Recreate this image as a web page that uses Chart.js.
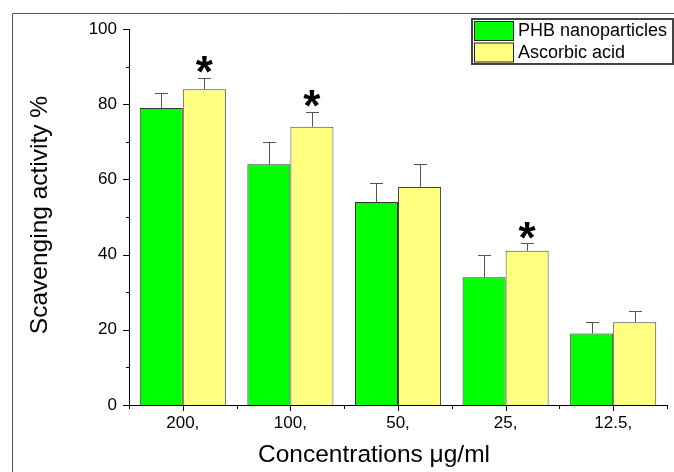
<!DOCTYPE html>
<html>
<head>
<meta charset="utf-8">
<script src="https://cdn.jsdelivr.net/npm/chart.js@4/dist/chart.umd.min.js"></script>
<style>
  html, body { margin: 0; padding: 0; background: #fff; }
  #chart { display: block; }
</style>
</head>
<body>
<canvas id="chart" width="674" height="472"></canvas>
<script>
// values
const categories = ['200,', '100,', '50,', '25,', '12.5,'];
const phbValues = [79, 64, 54, 34, 19];
const phbErrors = [4, 6, 5, 6, 3];
const ascorbicValues = [84, 74, 58, 41, 22];
const ascorbicErrors = [3, 4, 6, 2, 3];
const ascorbicStars = [true, true, false, true, false];
const yTicks = [0, 20, 40, 60, 80, 100];

const FONT = 'Arial, "Liberation Sans", sans-serif';

// error bars (upper only) and significance stars
const errorBarPlugin = {
    id: 'errorBars',
    afterDatasetsDraw(chart) {
        const ctx = chart.ctx;
        const yScale = chart.scales.y;
        chart.data.datasets.forEach((ds, i) => {
            const meta = chart.getDatasetMeta(i);
            meta.data.forEach((bar, j) => {
                const top = yScale.getPixelForValue(ds.data[j] + ds.errors[j]);
                const x = Math.round(bar.x) + 0.5;
                ctx.save();
                ctx.strokeStyle = '#555';
                ctx.lineWidth = 1;
                ctx.beginPath();
                ctx.moveTo(x, bar.y);
                ctx.lineTo(x, Math.round(top) + 0.5);
                ctx.moveTo(x - 6.5, Math.round(top) + 0.5);
                ctx.lineTo(x + 6.5, Math.round(top) + 0.5);
                ctx.stroke();
                if (ds.stars && ds.stars[j]) {
                    ctx.fillStyle = '#000';
                    ctx.font = 'bold 44px ' + FONT;
                    ctx.textAlign = 'center';
                    ctx.textBaseline = 'alphabetic';
                    ctx.fillText('*', bar.x, top - 15 + 0.55 * 44);
                }
                ctx.restore();
            });
        });
    }
};

// major / minor tick marks, titles, legend box and frame
const decorPlugin = {
    id: 'decor',
    afterDraw(chart) {
        const ctx = chart.ctx;
        const x = chart.scales.x;
        const y = chart.scales.y;
        const area = chart.chartArea;
        ctx.save();
        ctx.strokeStyle = '#000';
        ctx.lineWidth = 1;
        ctx.beginPath();
        // y ticks
        for (let v = 0; v <= 100; v += 10) {
            const py = Math.round(y.getPixelForValue(v)) + 0.5;
            const len = v % 20 === 0 ? 6 : 3;
            ctx.moveTo(area.left, py);
            ctx.lineTo(area.left - len, py);
        }
        // x ticks: centers (major) and boundaries (minor)
        const n = categories.length;
        for (let i = 0; i < n; i++) {
            const px = Math.round(x.getPixelForValue(i)) + 0.5;
            ctx.moveTo(px, area.bottom);
            ctx.lineTo(px, area.bottom + 6);
        }
        for (let i = 0; i <= n; i++) {
            const px = Math.round(x.getPixelForValue(i - 0.5)) + 0.5;
            ctx.moveTo(px, area.bottom);
            ctx.lineTo(px, area.bottom + 4);
        }
        ctx.stroke();

        // axis titles
        ctx.fillStyle = '#000';
        ctx.font = '24.5px ' + FONT;
        ctx.textAlign = 'center';
        ctx.textBaseline = 'middle';
        ctx.fillText('Concentrations \u03bcg/ml', 374, 455);
        ctx.save();
        ctx.translate(40, 215);
        ctx.rotate(-Math.PI / 2);
        ctx.fillText('Scavenging activity %', 0, 0);
        ctx.restore();

        // legend
        ctx.strokeStyle = '#444';
        ctx.lineWidth = 2;
        ctx.strokeRect(472, 19, 201, 45);
        chart.data.datasets.forEach((ds, i) => {
            const sy = 21 + i * 21.5;
            ctx.fillStyle = ds.backgroundColor;
            ctx.fillRect(474, sy, 40, 20);
            ctx.strokeStyle = '#222';
            ctx.lineWidth = 1;
            ctx.strokeRect(474.5, sy + 0.5, 39, 19);
            ctx.fillStyle = '#000';
            ctx.font = '18px ' + FONT;
            ctx.textAlign = 'left';
            ctx.textBaseline = 'middle';
            ctx.fillText(ds.label, 518, sy + 10.5);
        });

        // outer frame
        ctx.strokeStyle = '#555';
        ctx.lineWidth = 1;
        ctx.beginPath();
        ctx.moveTo(12.5, chart.height);
        ctx.lineTo(12.5, 13.5);
        ctx.lineTo(chart.width, 13.5);
        ctx.stroke();
        ctx.restore();
    }
};

new Chart(document.getElementById('chart'), {
    type: 'bar',
    data: {
        labels: categories,
        datasets: [
            {
                label: 'PHB nanoparticles',
                data: phbValues,
                errors: phbErrors,
                backgroundColor: '#00ff00',
                borderColor: '#333',
                borderWidth: 1
            },
            {
                label: 'Ascorbic acid',
                data: ascorbicValues,
                errors: ascorbicErrors,
                stars: ascorbicStars,
                backgroundColor: '#ffff80',
                borderColor: '#444',
                borderWidth: 1
            }
        ]
    },
    options: {
        responsive: false,
        animation: false,
        events: [],
        layout: { padding: { top: 29, right: 7, left: 0, bottom: 0 } },
        datasets: { bar: { categoryPercentage: 0.8, barPercentage: 1.0 } },
        plugins: {
            legend: { display: false },
            tooltip: { enabled: false }
        },
        scales: {
            x: {
                grid: { display: false, drawTicks: false },
                border: { display: true, color: '#000', width: 1 },
                ticks: { color: '#000', font: { family: FONT, size: 17 }, padding: 8, maxRotation: 0 },
                afterFit(scale) { scale.height = 67; }
            },
            y: {
                min: 0,
                max: 100,
                grid: { display: false, drawTicks: false },
                border: { display: true, color: '#000', width: 1 },
                afterBuildTicks(scale) { scale.ticks = yTicks.map(v => ({ value: v })); },
                ticks: { color: '#000', font: { family: FONT, size: 17 }, padding: 12 },
                afterFit(scale) { scale.width = 129; }
            }
        }
    },
    plugins: [errorBarPlugin, decorPlugin]
});
</script>
</body>
</html>
